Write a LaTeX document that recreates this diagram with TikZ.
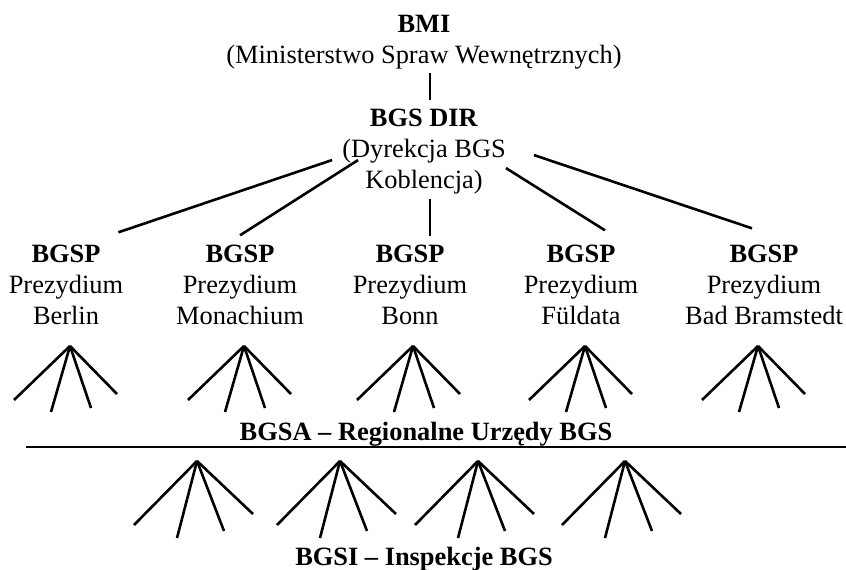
\documentclass[tikz,border=0pt]{standalone}
\usepackage{fontspec}
\setmainfont{Liberation Serif}
\usetikzlibrary{positioning}
\tikzset{
  unit/.style={align=center, anchor=base, font=\fontsize{26.4}{31}\selectfont},
  head/.style={anchor=base, font=\fontsize{26.4}{31}\selectfont\bfseries},
  link/.style={line width=2.6pt}
}
\begin{document}
\begin{tikzpicture}[x=1pt,y=-1pt]
                    \useasboundingbox (0,0) rectangle (846,570);
                    \tikzstyle{every node}+=[inner sep=0pt]
                    % ministry and directorate (base = last line)
                    \node [unit] (bmi) at (424,63) {\textbf{BMI}\\(Ministerstwo Spraw Wewnętrznych)};
                    \node [unit] (dir) at (424,188) {\textbf{BGS DIR}\\(Dyrekcja BGS\\Koblencja)};
                    % presidia
                    \node [unit] (berlin) at (66,324) {\textbf{BGSP}\\Prezydium\\Berlin};
                    \node [unit] (monachium) at (240,324) {\textbf{BGSP}\\Prezydium\\Monachium};
                    \node [unit] (bonn) at (410,324) {\textbf{BGSP}\\Prezydium\\Bonn};
                    \node [unit] (fuldata) at (581,324) {\textbf{BGSP}\\Prezydium\\Füldata};
                    \node [unit] (bramstedt) at (764,324) {\textbf{BGSP}\\Prezydium\\Bad Bramstedt};
                    % lower levels
                    \node [head] (bgsa) at (426,440) {BGSA – Regionalne Urzędy BGS};
                    \node [head] (bgsi) at (424,565) {BGSI – Inspekcje BGS};
                    \coordinate (ruleL) at (26,447);
                    \coordinate (ruleR) at (846,447);
                    \foreach \n/\x in {1/70,2/244,3/413,4/585,5/758}
                      \coordinate (p\n) at (\x,346);
                    \foreach \n/\x in {1/197,2/340,3/478,4/625}
                      \coordinate (r\n) at (\x,461);
                    % connectors
                    \draw [link] ([shift={(6,4)}]bmi.south) -- ([shift={(6,-8)}]dir.north);
                    \draw [link] ([shift={(-10,9)}]dir.west) -- ([shift={(-5,-12)}]berlin.north east);
                    \draw [link] ([shift={(16,9)}]dir.west) -- ([shift={(0,-9)}]monachium.north);
                    \draw [link] ([shift={(6,5)}]dir.south) -- ([shift={(20,-8)}]bonn.north);
                    \draw [link] ([shift={(0,17)}]dir.east) -- ([shift={(24,-14)}]fuldata.north);
                    \draw [link] ([shift={(28,4)}]dir.east) -- ([shift={(-12,-16)}]bramstedt.north);
                    \draw [link] (ruleL) -- (ruleR);
                    % fans
                    \foreach \a in {p1,p2,p3,p4,p5}
                      \foreach \dx/\dy in {-56/54,-19/66,21/62,47/48}
                        \draw [link] (\a) -- ++(\dx,\dy);
                    \foreach \a in {r1,r2,r3,r4}
                      \foreach \dx/\dy in {-63/64,-20/77,27/70,56/53}
                        \draw [link] (\a) -- ++(\dx,\dy);
\end{tikzpicture}
\end{document}
